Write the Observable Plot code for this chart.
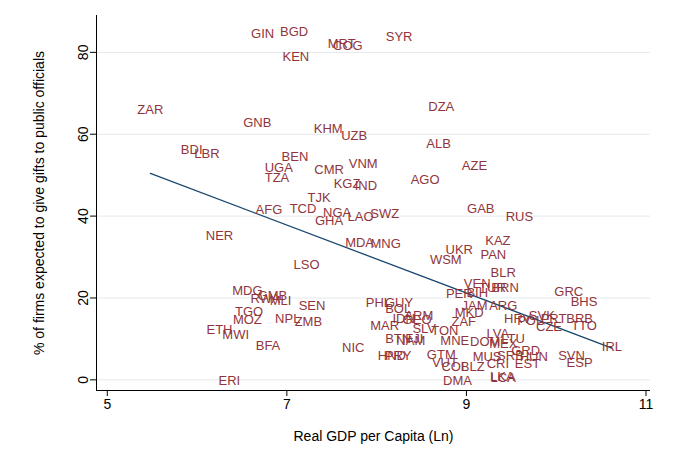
<!DOCTYPE html>
<html><head><meta charset="utf-8">
<script src="https://cdn.jsdelivr.net/npm/d3@7"></script>
<script src="https://cdn.jsdelivr.net/npm/@observablehq/plot@0.6"></script>
<style>body{margin:0;background:#fff;font-family:"Liberation Sans",Arial,sans-serif}</style>
</head><body><div id="chart"></div>
<script>
const countries = ["GIN","BGD","KEN","MRT","COG","SYR","ZAR","DZA","GNB","KHM","UZB","ALB","BDI","LBR","BEN","UGA","CMR","VNM","AZE","TZA","TJK","KGZ","IND","AGO","AFG","TCD","NGA","SWZ","GAB","RUS","GHA","LAO","NER","MDA","MNG","KAZ","UKR","PAN","WSM","LSO","BLR","VEN","TUR","BRN","PER","BIH","MDG","GRC","BHS","RWA","GMB","MLI","SEN","PHL","GUY","BOL","ARG","JAM","MKD","ARM","IDN","GEO","ZAF","TGO","MOZ","NPL","ZMB","SVK","HRV","POL","PRT","BRB","CZE","TTO","MAR","LVA","SLV","TON","MEX","NAM","BTN","FJI","MNE","DOM","LTU","ETH","MWI","BFA","NIC","IRL","HND","PRY","GTM","MUS","GRD","SRB","HUN","SVN","ESP","EST","VUT","CRI","BLZ","COL","DMA","LCA","LKA","ERI"];
const gdp = [6.73,7.08,7.10,7.61,7.68,8.25,5.48,8.72,6.67,7.46,7.75,8.69,5.94,6.11,7.09,6.91,7.47,7.85,9.09,6.89,7.36,7.67,7.88,8.54,6.80,7.18,7.56,8.09,9.16,9.59,7.47,7.82,6.25,7.81,8.10,9.35,8.92,9.30,8.77,7.22,9.41,9.12,9.29,9.43,8.92,9.12,6.56,10.14,10.31,6.76,6.84,6.93,7.28,8.02,8.25,8.24,9.41,9.09,9.03,8.47,8.30,8.45,8.97,6.58,6.56,7.01,7.24,9.84,9.57,9.71,9.97,10.26,9.92,10.31,8.09,9.35,8.53,8.76,9.41,8.38,8.24,8.42,8.87,9.21,9.52,6.25,6.43,6.79,7.74,10.62,8.17,8.24,8.72,9.23,9.66,9.49,9.75,10.17,10.26,9.68,8.76,9.35,9.07,8.87,8.90,9.41,9.40,6.36];
const gifts = [84.6,84.9,79.0,82.0,81.5,83.7,65.9,66.6,62.9,61.2,59.5,57.6,56.3,55.1,54.4,51.7,51.2,52.7,52.2,49.3,44.4,47.8,47.3,48.8,41.5,41.7,40.7,40.5,41.7,39.8,38.8,39.8,35.1,33.4,33.2,33.9,31.7,30.5,29.3,28.0,26.1,23.4,22.4,22.4,21.0,21.2,21.7,21.5,19.0,19.8,20.5,19.3,18.0,18.8,18.8,17.3,18.0,18.0,16.3,15.6,14.9,14.6,14.1,16.6,14.6,14.9,14.1,15.6,14.9,14.4,14.9,14.9,12.9,13.2,13.2,11.2,12.4,12.0,8.8,9.5,10.0,10.0,9.5,9.3,10.0,12.2,11.0,8.3,7.8,8.0,5.9,5.9,6.1,5.6,7.1,5.9,5.6,5.9,4.1,3.9,4.1,3.9,3.2,3.2,-0.2,0.5,0.7,-0.2];
const xTicks = [5,7,9,11];
const yTicks = [0,20,40,60,80];
const data = countries.map((c,i) => ({c, x: gdp[i], y: gifts[i]}));

const chart = Plot.plot({
  width: 688, height: 472,
  marginLeft: 96, marginRight: 38, marginTop: 15, marginBottom: 82,
  style: {fontFamily: "Liberation Sans, Arial, sans-serif", fontSize: "14px", color: "#000"},
  x: {domain: [4.88, 11.05], ticks: xTicks},
  y: {domain: [-2.6, 89], ticks: yTicks},
  marks: [
    Plot.gridY(yTicks, {stroke: "#e4e8ea", strokeOpacity: 1}),
    Plot.linearRegressionY(data, {x: "x", y: "y", stroke: "#1a476f", strokeWidth: 1.3, ci: 0}),
    Plot.text(data, {x: "x", y: "y", text: "c", fill: "#90353b", fontSize: 13}),
    Plot.axisX({ticks: xTicks, tickFormat: "d", tickSize: 6, fontSize: 14,
      label: "Real GDP per Capita (Ln)", labelAnchor: "center", labelArrow: "none", labelOffset: 50}),
    Plot.axisY({ticks: yTicks, tickFormat: "d", tickSize: 6, fontSize: 14, tickRotate: -90,
      label: "% of firms expected to give gifts to public officials", labelAnchor: "center", labelArrow: "none", labelOffset: 62}),
    Plot.ruleX([4.88], {stroke: "#000"}),
    Plot.ruleY([-2.6], {stroke: "#000"})
  ]
});
document.getElementById("chart").append(chart);
</script></body></html>
